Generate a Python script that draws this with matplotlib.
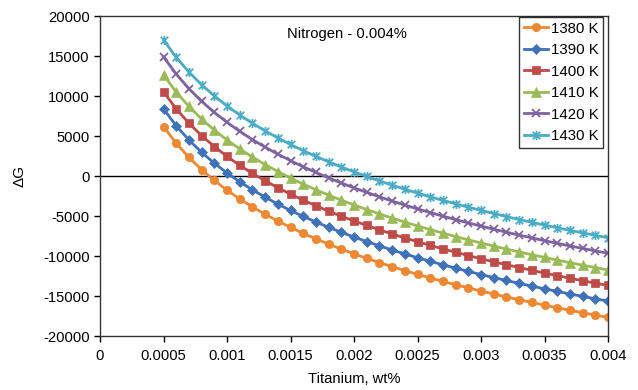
import matplotlib
matplotlib.use("Agg")
import matplotlib.pyplot as plt
from matplotlib.path import Path

plt.rcParams['font.family'] = ['Liberation Sans', 'DejaVu Sans']
plt.rcParams['axes.unicode_minus'] = False

titanium = [0.0005, 0.0006, 0.0007, 0.0008, 0.0009, 0.0010, 0.0011, 0.0012, 0.0013, 0.0014,
            0.0015, 0.0016, 0.0017, 0.0018, 0.0019, 0.0020, 0.0021, 0.0022, 0.0023, 0.0024,
            0.0025, 0.0026, 0.0027, 0.0028, 0.0029, 0.0030, 0.0031, 0.0032, 0.0033, 0.0034,
            0.0035, 0.0036, 0.0037, 0.0038, 0.0039, 0.0040]

dg_1380 = [6180, 4090, 2320, 790, -560, -1770, -2870, -3860, -4780, -5630,
           -6420, -7170, -7860, -8520, -9140, -9730, -10290, -10820, -11330, -11820,
           -12290, -12740, -13170, -13590, -13990, -14380, -14750, -15120, -15470, -15810,
           -16150, -16470, -16780, -17090, -17390, -17680]
dg_1390 = [8390, 6280, 4500, 2960, 1600, 380, -720, -1730, -2650, -3510,
           -4310, -5050, -5750, -6410, -7040, -7630, -8190, -8730, -9250, -9740,
           -10210, -10660, -11100, -11520, -11920, -12320, -12700, -13060, -13420, -13760,
           -14100, -14420, -14740, -15050, -15350, -15640]
dg_1400 = [10520, 8400, 6600, 5050, 3680, 2450, 1340, 330, -600, -1460,
           -2270, -3020, -3720, -4390, -5020, -5620, -6180, -6730, -7240, -7740,
           -8210, -8670, -9110, -9530, -9940, -10340, -10720, -11090, -11440, -11790,
           -12130, -12460, -12780, -13090, -13390, -13680]
dg_1410 = [12630, 10490, 8690, 7120, 5740, 4500, 3390, 2370, 1430, 560,
           -250, -1010, -1720, -2390, -3020, -3620, -4190, -4740, -5260, -5760,
           -6240, -6700, -7140, -7570, -7980, -8370, -8760, -9130, -9490, -9840,
           -10180, -10510, -10830, -11150, -11450, -11750]
dg_1420 = [14890, 12740, 10920, 9340, 7950, 6710, 5580, 4550, 3610, 2730,
           1920, 1160, 440, -230, -870, -1480, -2050, -2600, -3130, -3630,
           -4110, -4570, -5020, -5450, -5860, -6260, -6650, -7030, -7390, -7740,
           -8080, -8420, -8740, -9050, -9360, -9660]
dg_1430 = [17000, 14830, 13000, 11410, 10010, 8760, 7630, 6590, 5640, 4760,
           3940, 3170, 2450, 1770, 1130, 520, -60, -610, -1140, -1650,
           -2130, -2600, -3050, -3480, -3900, -4300, -4690, -5070, -5440, -5790,
           -6140, -6470, -6800, -7110, -7420, -7720]

labels = ['1380 K', '1390 K', '1400 K', '1410 K', '1420 K', '1430 K']
x_ticks = [0, 0.0005, 0.001, 0.0015, 0.002, 0.0025, 0.003, 0.0035, 0.004]
x_tick_labels = ['0', '0.0005', '0.001', '0.0015', '0.002', '0.0025', '0.003', '0.0035', '0.004']
y_ticks = [-20000, -15000, -10000, -5000, 0, 5000, 10000, 15000, 20000]

colors = ['#EE8833', '#3F72B8', '#BE4B48', '#9BBB59', '#7F63A1', '#4BACC6']

star = Path([(-1, -1), (1, 1), (-1, 1), (1, -1), (0, -1.2), (0, 1.2)],
            [Path.MOVETO, Path.LINETO, Path.MOVETO, Path.LINETO, Path.MOVETO, Path.LINETO])

markers = ['o', 'D', 's', '^', 'x', star]
msizes = [6, 5.2, 5.2, 6.5, 6, 6.5]

fig = plt.figure(figsize=(6.38, 3.90), dpi=100)
ax = fig.add_axes([100 / 638, 1 - 336 / 390, 508 / 638, 320 / 390])

series = [dg_1380, dg_1390, dg_1400, dg_1410, dg_1420, dg_1430]
for s, lab, c, m, ms in zip(series, labels, colors, markers, msizes):
    unfilled = m in ('x',) or isinstance(m, Path)
    ax.plot(titanium, s, color=c, lw=2, marker=m, markersize=ms,
            markerfacecolor='none' if unfilled else c,
            markeredgecolor=c, markeredgewidth=1.3 if unfilled else 0.5,
            label=lab)

ax.axhline(0, color='black', lw=1, zorder=1)
ax.set_xlim(0, 0.004)
ax.set_ylim(-20000, 20000)
ax.set_xticks(x_ticks)
ax.set_xticklabels(x_tick_labels)
ax.set_yticks(y_ticks)
ax.tick_params(axis='both', direction='out', length=4, width=1, labelsize=10.6, colors='black')
ax.tick_params(axis='x', pad=5)
for sp in ax.spines.values():
    sp.set_color('#333333')
    sp.set_linewidth(1)

ax.set_xlabel('Titanium, wt%', fontsize=10.6, labelpad=7)
ax.set_ylabel('ΔG', fontsize=11, labelpad=12)
ax.text(0.486, 0.965, 'Nitrogen - 0.004%', transform=ax.transAxes, ha='center', va='top', fontsize=10.6)

leg = ax.legend(loc='upper right', bbox_to_anchor=(1.0 - 5 / 508, 1.0 - 1 / 320), fontsize=10.8,
                frameon=True, fancybox=False, edgecolor='black', borderpad=0.3,
                labelspacing=0.5, handlelength=1.65, handletextpad=0.15, borderaxespad=0)
leg.get_frame().set_linewidth(1)

fig.savefig('out.png', dpi=100)
